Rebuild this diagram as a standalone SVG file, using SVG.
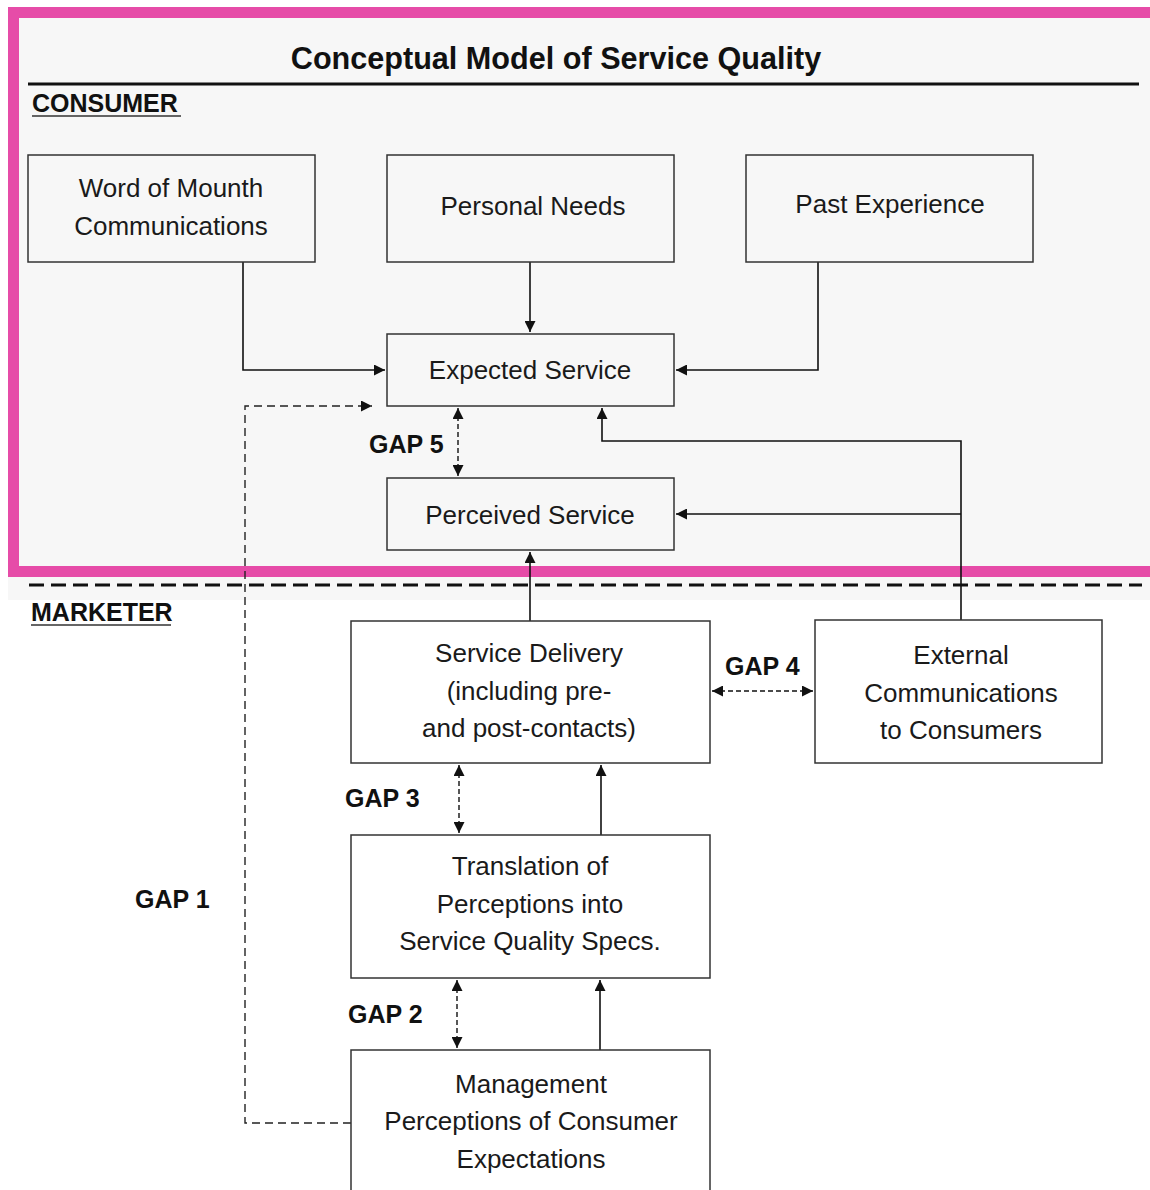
<svg xmlns="http://www.w3.org/2000/svg" width="1150" height="1190" viewBox="0 0 1150 1190">
<defs>
<style>
.box{fill:none;stroke:#333;stroke-width:1.5}
.t{font-family:"Liberation Sans",Arial,sans-serif;font-size:26px;fill:#1a1a1a;text-anchor:middle}
.b{font-family:"Liberation Sans",Arial,sans-serif;font-weight:bold;font-size:25px;fill:#111}
.ln{fill:none;stroke:#111;stroke-width:1.6}
.dl{fill:none;stroke:#111;stroke-width:1.4;stroke-dasharray:5 3}
.g1{fill:none;stroke:#222;stroke-width:1.4;stroke-dasharray:8 5}
</style>
<marker id="ah" viewBox="0 0 10 10" refX="10" refY="5" markerWidth="12" markerHeight="11" markerUnits="userSpaceOnUse" orient="auto-start-reverse">
<path d="M0,0 L10,5 L0,10 z" fill="#111"/>
</marker>
</defs>
<rect x="0" y="0" width="1150" height="1190" fill="#fff"/>
<rect x="8" y="7" width="1142" height="593" fill="#f7f7f7"/>
<rect x="13.5" y="12.5" width="1143" height="559" fill="none" stroke="#e64ca8" stroke-width="11"/>
<line x1="29" y1="585" x2="1142" y2="585" stroke="#111" stroke-width="3" stroke-dasharray="15 7"/>

<text x="556" y="69" font-family="Liberation Sans,Arial,sans-serif" font-weight="bold" font-size="30.6" text-anchor="middle" fill="#111">Conceptual Model of Service Quality</text>
<line x1="28" y1="84" x2="1139" y2="84" stroke="#111" stroke-width="3"/>
<text class="b" x="32" y="112">CONSUMER</text>
<line x1="32" y1="116" x2="181" y2="116" stroke="#333" stroke-width="1.5"/>
<text class="b" x="31" y="621">MARKETER</text>
<line x1="31" y1="625" x2="171" y2="625" stroke="#333" stroke-width="1.5"/>

<g id="connectors">
<path class="ln" d="M243,262 V370 H385" marker-end="url(#ah)"/>
<path class="ln" d="M530,262 V332" marker-end="url(#ah)"/>
<path class="ln" d="M818,262 V370 H676" marker-end="url(#ah)"/>
<path class="g1" d="M351,1123 H245 V406 H372" marker-end="url(#ah)"/>
<path class="dl" d="M458,408 V476" marker-start="url(#ah)" marker-end="url(#ah)"/>
<path class="ln" d="M961,620 V441 H602 V408" marker-end="url(#ah)"/>
<path class="ln" d="M961,514 H676" marker-end="url(#ah)"/>
<path class="ln" d="M530,621 V552" marker-end="url(#ah)"/>
<path class="dl" d="M712,691 H813" marker-start="url(#ah)" marker-end="url(#ah)"/>
<path class="dl" d="M459,765 V833" marker-start="url(#ah)" marker-end="url(#ah)"/>
<path class="ln" d="M601,835 V765" marker-end="url(#ah)"/>
<path class="dl" d="M457,980 V1048" marker-start="url(#ah)" marker-end="url(#ah)"/>
<path class="ln" d="M600,1050 V980" marker-end="url(#ah)"/>
</g>

<g id="gap-labels">
<text class="b" x="369" y="453">GAP 5</text>
<text class="b" x="725" y="675">GAP 4</text>
<text class="b" x="345" y="807">GAP 3</text>
<text class="b" x="135" y="908">GAP 1</text>
<text class="b" x="348" y="1023">GAP 2</text>
</g>

<g id="word-of-mouth">
<rect class="box" x="28" y="155" width="287" height="107"/>
<text class="t" x="171" y="197">Word of Mounth</text>
<text class="t" x="171" y="235">Communications</text>
</g>
<g id="personal-needs">
<rect class="box" x="387" y="155" width="287" height="107"/>
<text class="t" x="533" y="215">Personal Needs</text>
</g>
<g id="past-experience">
<rect class="box" x="746" y="155" width="287" height="107"/>
<text class="t" x="890" y="213">Past Experience</text>
</g>
<g id="expected-service">
<rect class="box" x="387" y="334" width="287" height="72"/>
<text class="t" x="530" y="379">Expected Service</text>
</g>
<g id="perceived-service">
<rect class="box" x="387" y="478" width="287" height="72"/>
<text class="t" x="530" y="524">Perceived Service</text>
</g>
<g id="service-delivery">
<rect class="box" x="351" y="621" width="359" height="142"/>
<text class="t" x="529" y="662">Service Delivery</text>
<text class="t" x="529" y="700">(including pre-</text>
<text class="t" x="529" y="737">and post-contacts)</text>
</g>
<g id="external-communications">
<rect class="box" x="815" y="620" width="287" height="143"/>
<text class="t" x="961" y="664">External</text>
<text class="t" x="961" y="702">Communications</text>
<text class="t" x="961" y="739">to Consumers</text>
</g>
<g id="translation">
<rect class="box" x="351" y="835" width="359" height="143"/>
<text class="t" x="530" y="875">Translation of</text>
<text class="t" x="530" y="913">Perceptions into</text>
<text class="t" x="530" y="950">Service Quality Specs.</text>
</g>
<g id="management">
<rect class="box" x="351" y="1050" width="359" height="150"/>
<text class="t" x="531" y="1093">Management</text>
<text class="t" x="531" y="1130">Perceptions of Consumer</text>
<text class="t" x="531" y="1168">Expectations</text>
</g>
</svg>
